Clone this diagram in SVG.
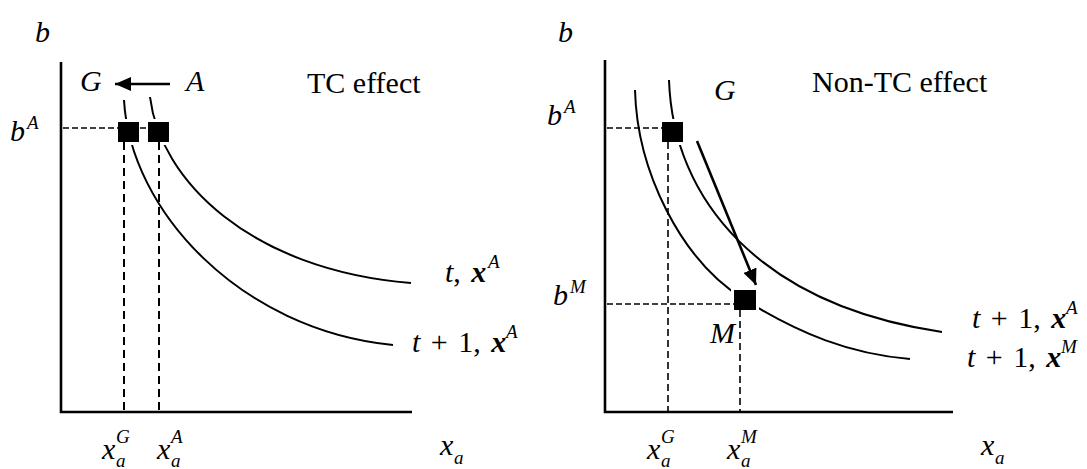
<svg xmlns="http://www.w3.org/2000/svg" width="1087" height="469" viewBox="0 0 1087 469">
<style>
.axis{stroke:#000;stroke-width:2.6;fill:none}
.curve{stroke:#000;stroke-width:2;fill:none}
.dh{stroke:#000;stroke-width:1.3;stroke-dasharray:6,3;fill:none}
.dv{stroke:#000;stroke-width:2;stroke-dasharray:8,5;fill:none}
.dv2{stroke:#000;stroke-width:1.6;stroke-dasharray:7,4;fill:none}
.arrow{stroke:#000;stroke-width:2.6;fill:none;marker-end:url(#head)}
.sq{fill:#000;stroke:#fff;stroke-width:6;paint-order:stroke}
.m{font-family:"Liberation Serif",serif;font-style:italic;font-size:30px;fill:#000;word-spacing:3px}
.s{font-size:19px}
.bx{font-weight:bold}
.up{font-style:normal}
.t{font-family:"Liberation Serif",serif;font-size:30px;fill:#000}
</style>
<defs>
<marker id="head" viewBox="0 0 16 14" refX="16" refY="7" markerWidth="16" markerHeight="14" markerUnits="userSpaceOnUse" orient="auto">
<path d="M0,0 L16,7 L0,14 z" fill="#000"/>
</marker>
</defs>

<!-- Left panel -->
<g id="left-axes">
<path class="axis" d="M61,62 L61,412 L412,412"/>
</g>
<g id="left-curves">
<path class="curve" d="M150,97 C160,180 250,270 411,283"/>
<path class="curve" d="M124,100 C130,210 240,330 393,345"/>
</g>
<g id="left-G"><rect class="sq" x="118" y="122" width="21" height="20"/></g>
<g id="left-A"><rect class="sq" x="148" y="122" width="21" height="20"/></g>
<g id="left-guides">
<path class="dh" d="M63,128 L118,128 M140,128 L148,128"/>
<path class="dv" d="M124,142 L124,411 M159,142 L159,411"/>
</g>

<!-- Right panel -->
<g id="right-axes">
<path class="axis" d="M605,60 L605,412 L953,412"/>
</g>
<g id="right-curves">
<path class="curve" d="M635,90 C637,170 680,260 745,300 C800,334 850,354 910,359"/>
<path class="curve" d="M669,80 C673,200 760,305 942,332"/>
</g>
<g id="right-G"><rect class="sq" x="662" y="122" width="21" height="20"/></g>
<g id="right-M"><rect class="sq" x="734" y="290" width="22" height="20"/></g>
<g id="right-guides">
<path class="dh" d="M607,128 L662,128 M607,304 L734,304"/>
<path class="dv2" d="M668,142 L668,411 M740,310 L740,411"/>
</g>

<g id="connectors">
<line class="arrow" x1="170" y1="84" x2="115" y2="84"/>
<line class="arrow" x1="697" y1="141" x2="756" y2="285"/>
</g>

<!-- Labels left -->
<g id="labels-left">
<text class="m" x="35" y="42">b</text>
<text class="m" x="10" y="141">b</text><text class="m s" x="27" y="129">A</text>
<text class="m" x="80" y="91">G</text>
<text class="m" x="186" y="91">A</text>
<text class="t" x="307" y="93">TC effect</text>
<text class="m" x="445" y="282">t<tspan class="up">,</tspan> <tspan class="bx">x</tspan></text><text class="m s" x="488" y="268">A</text>
<text class="m" x="412" y="352">t <tspan class="up">+ 1,</tspan> <tspan class="bx">x</tspan></text><text class="m s" x="506" y="338">A</text>
<text class="m" x="102" y="459">x</text><text class="m s" x="116" y="467">a</text><text class="m s" x="116" y="443">G</text>
<text class="m" x="157" y="459">x</text><text class="m s" x="171" y="467">a</text><text class="m s" x="171" y="443">A</text>
<text class="m" x="440" y="455">x</text><text class="m s" x="454" y="464">a</text>
</g>

<!-- Labels right -->
<g id="labels-right">
<text class="m" x="558" y="42">b</text>
<text class="m" x="547" y="125">b</text><text class="m s" x="564" y="113">A</text>
<text class="m" x="714" y="100">G</text>
<text class="t" x="812" y="92">Non-TC effect</text>
<text class="m" x="553" y="305">b</text><text class="m s" x="570" y="293">M</text>
<text class="m" x="710" y="343">M</text>
<text class="m" x="972" y="328">t <tspan class="up">+ 1,</tspan> <tspan class="bx">x</tspan></text><text class="m s" x="1066" y="314">A</text>
<text class="m" x="967" y="367">t <tspan class="up">+ 1,</tspan> <tspan class="bx">x</tspan></text><text class="m s" x="1061" y="353">M</text>
<text class="m" x="647" y="459">x</text><text class="m s" x="661" y="467">a</text><text class="m s" x="661" y="443">G</text>
<text class="m" x="727" y="459">x</text><text class="m s" x="741" y="467">a</text><text class="m s" x="741" y="443">M</text>
<text class="m" x="981" y="455">x</text><text class="m s" x="995" y="464">a</text>
</g>
</svg>
